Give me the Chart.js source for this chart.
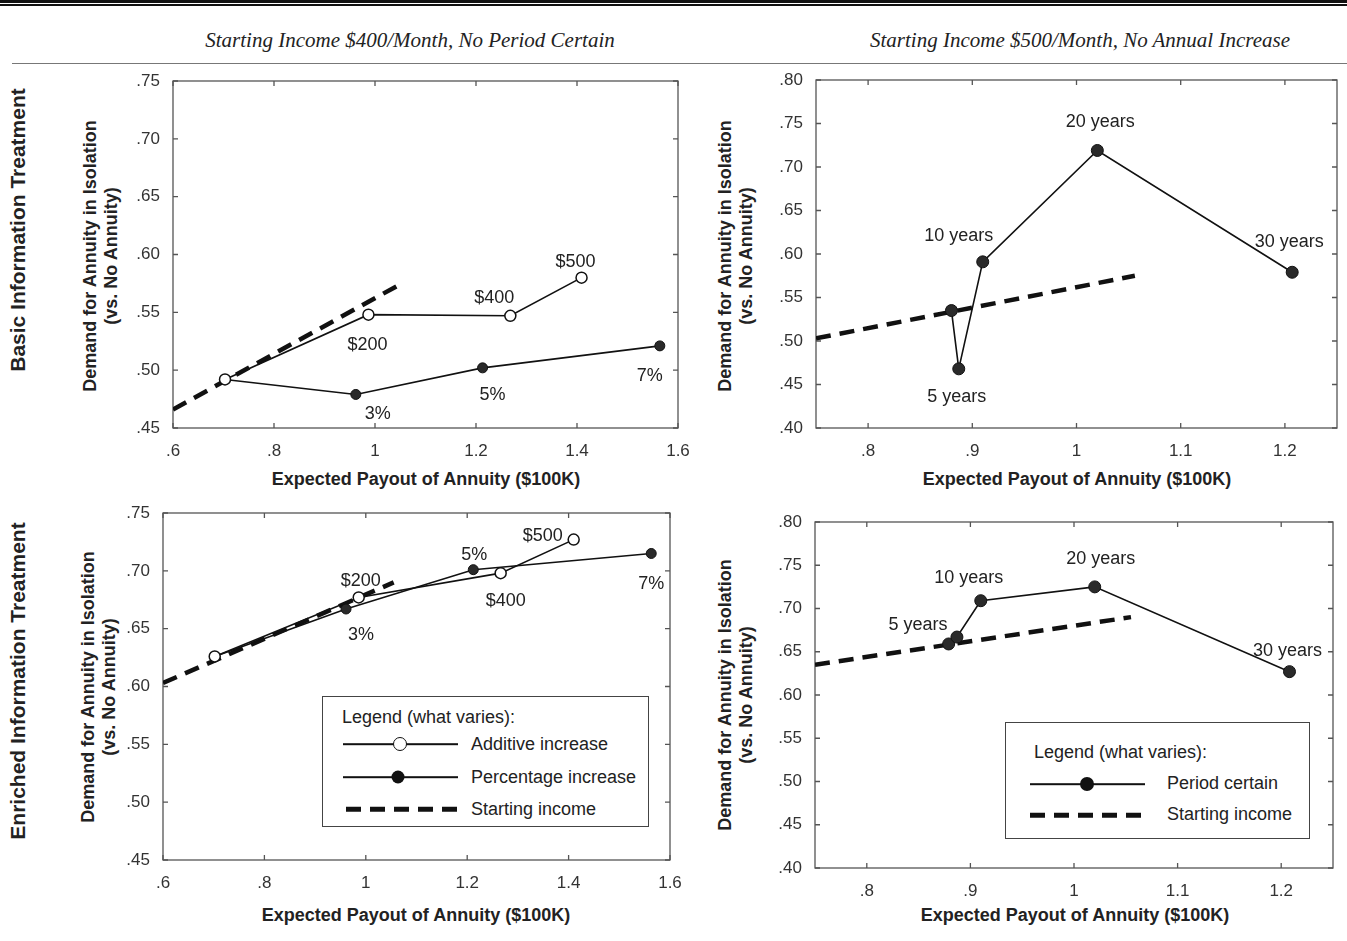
<!DOCTYPE html>
<html>
<head>
<meta charset="utf-8">
<script src="https://cdn.jsdelivr.net/npm/chart.js@4.4.1/dist/chart.umd.min.js"></script>
<style>
html,body{margin:0;padding:0;background:#fff;width:1347px;height:941px;overflow:hidden;position:relative;font-family:"Liberation Sans",Arial,Helvetica,sans-serif;color:#222;}
canvas{position:absolute;}
.rule{position:absolute;left:0;width:1347px;background:#111;}
.hdr{position:absolute;font-family:"Liberation Serif","Times New Roman",serif;font-style:italic;font-size:21px;color:#222;white-space:nowrap;transform:translate(-50%,-50%);}
.rowlab{position:absolute;font-weight:bold;font-size:21px;color:#222;white-space:nowrap;transform:translate(-50%,-50%) rotate(-90deg);}
.ytitle{position:absolute;font-weight:bold;font-size:18px;color:#222;white-space:nowrap;transform:translate(-50%,-50%) rotate(-90deg);}
.xtitle{position:absolute;font-weight:bold;font-size:18px;color:#222;white-space:nowrap;transform:translate(-50%,-50%);}
.legend{position:absolute;border:1.3px solid #444;background:#fff;box-sizing:border-box;}
.legend .t{position:absolute;font-size:18px;color:#222;white-space:nowrap;transform:translateY(-50%);}
.legend .ln{position:absolute;height:1.6px;background:#111;transform:translateY(-50%);}
.legend .dash{position:absolute;height:4.5px;transform:translateY(-50%);background:repeating-linear-gradient(to right,#111 0 15px,transparent 15px 24px);}
.legend .dot{position:absolute;border-radius:50%;box-sizing:border-box;transform:translate(-50%,-50%);}
</style>
</head>
<body>
<div class="rule" style="top:0;height:3px;"></div>
<div class="rule" style="top:4px;height:1.6px;"></div>
<div style="position:absolute;left:12px;top:63px;width:1335px;height:1.3px;background:#777;"></div>

<div class="hdr" style="left:410px;top:40px;">Starting Income $400/Month, No Period Certain</div>
<div class="hdr" style="left:1080px;top:40px;">Starting Income $500/Month, No Annual Increase</div>

<div class="rowlab" style="left:18px;top:230px;">Basic Information Treatment</div>
<div class="rowlab" style="left:18px;top:681px;">Enriched Information Treatment</div>

<div class="ytitle" style="left:90px;top:256px;">Demand for Annuity in Isolation</div>
<div class="ytitle" style="left:111px;top:256px;">(vs. No Annuity)</div>
<div class="ytitle" style="left:88px;top:687px;">Demand for Annuity in Isolation</div>
<div class="ytitle" style="left:109px;top:687px;">(vs. No Annuity)</div>
<div class="ytitle" style="left:725px;top:256px;">Demand for Annuity in Isolation</div>
<div class="ytitle" style="left:746px;top:256px;">(vs. No Annuity)</div>
<div class="ytitle" style="left:725px;top:695px;">Demand for Annuity in Isolation</div>
<div class="ytitle" style="left:746px;top:695px;">(vs. No Annuity)</div>

<div class="xtitle" style="left:426px;top:479px;">Expected Payout of Annuity ($100K)</div>
<div class="xtitle" style="left:1077px;top:479px;">Expected Payout of Annuity ($100K)</div>
<div class="xtitle" style="left:416px;top:915px;">Expected Payout of Annuity ($100K)</div>
<div class="xtitle" style="left:1075px;top:915px;">Expected Payout of Annuity ($100K)</div>

<canvas id="cA"></canvas>
<canvas id="cB"></canvas>
<canvas id="cC"></canvas>
<canvas id="cD"></canvas>

<div class="legend" style="left:322px;top:696px;width:327px;height:131px;">
  <div class="t" style="left:19px;top:20px;">Legend (what varies):</div>
  <div class="ln" style="left:20px;top:47px;width:115px;"></div>
  <div class="dot" style="left:77px;top:47px;width:14px;height:14px;border:1.6px solid #111;background:#fff;"></div>
  <div class="t" style="left:148px;top:47px;">Additive increase</div>
  <div class="ln" style="left:20px;top:80px;width:115px;"></div>
  <div class="dot" style="left:75px;top:80px;width:13px;height:13px;background:#111;"></div>
  <div class="t" style="left:148px;top:80px;">Percentage increase</div>
  <div class="dash" style="left:23px;top:112px;width:112px;"></div>
  <div class="t" style="left:148px;top:112px;">Starting income</div>
</div>

<div class="legend" style="left:1005px;top:722px;width:305px;height:117px;">
  <div class="t" style="left:28px;top:29px;">Legend (what varies):</div>
  <div class="ln" style="left:24px;top:61px;width:115px;"></div>
  <div class="dot" style="left:81px;top:61px;width:14px;height:14px;background:#111;"></div>
  <div class="t" style="left:161px;top:60px;">Period certain</div>
  <div class="dash" style="left:24px;top:92px;width:115px;"></div>
  <div class="t" style="left:161px;top:91px;">Starting income</div>
</div>

<script>
// ---------- DATA ----------
// Basic information treatment, starting income $400/month, no period certain
const basicAddX = [0.703, 0.987, 1.268, 1.409];
const basicAddY = [0.492, 0.548, 0.547, 0.580];
const basicAddLabels = ['', '$200', '$400', '$500'];
const basicPctX = [0.703, 0.962, 1.213, 1.564];
const basicPctY = [0.492, 0.479, 0.502, 0.521];
const basicPctLabels = ['', '3%', '5%', '7%'];
const basicIncomeX = [0.600, 1.053];
const basicIncomeY = [0.466, 0.575];

// Basic information treatment, starting income $500/month, no annual increase
const basicPerX = [0.880, 0.887, 0.910, 1.020, 1.207];
const basicPerY = [0.535, 0.468, 0.591, 0.719, 0.579];
const basicPerLabels = ['', '5 years', '10 years', '20 years', '30 years'];
const basicIncome2X = [0.750, 1.056];
const basicIncome2Y = [0.503, 0.575];

// Enriched information treatment, starting income $400/month, no period certain
const enrAddX = [0.702, 0.986, 1.266, 1.410];
const enrAddY = [0.626, 0.677, 0.698, 0.727];
const enrAddLabels = ['', '$200', '$400', '$500'];
const enrPctX = [0.702, 0.961, 1.212, 1.563];
const enrPctY = [0.626, 0.667, 0.701, 0.715];
const enrPctLabels = ['', '3%', '5%', '7%'];
const enrIncomeX = [0.600, 1.055];
const enrIncomeY = [0.603, 0.690];

// Enriched information treatment, starting income $500/month, no annual increase
const enrPerX = [0.879, 0.887, 0.910, 1.020, 1.208];
const enrPerY = [0.659, 0.667, 0.709, 0.725, 0.627];
const enrPerLabels = ['', '5 years', '10 years', '20 years', '30 years'];
const enrIncome2X = [0.750, 1.055];
const enrIncome2Y = [0.635, 0.690];

// Tick labels
const xTicksLeft = [0.6, 0.8, 1.0, 1.2, 1.4, 1.6];
const yTicksLeft = [0.45, 0.50, 0.55, 0.60, 0.65, 0.70, 0.75];
const xTicksRight = [0.8, 0.9, 1.0, 1.1, 1.2];
const yTicksRight = [0.40, 0.45, 0.50, 0.55, 0.60, 0.65, 0.70, 0.75, 0.80];

// ---------- HELPERS ----------
const pts = (xs, ys) => xs.map((x, i) => ({x: x, y: ys[i]}));
const INK = '#111';
function solidSeries(xs, ys, labels, offsets, open, r) {
  return {
    data: pts(xs, ys), showLine: true, fill: false,
    borderColor: INK, borderWidth: 1.6,
    pointStyle: 'circle', pointRadius: r, pointHoverRadius: r,
    pointBackgroundColor: open ? '#fff' : '#2a2a2a',
    pointBorderColor: INK, pointBorderWidth: open ? 1.5 : 1,
    pointLabels: labels, labelOffsets: offsets
  };
}
function dashedSeries(xs, ys) {
  return {
    data: pts(xs, ys), showLine: true, fill: false,
    borderColor: INK, borderWidth: 4.5, borderDash: [15, 9],
    pointRadius: 0, pointHoverRadius: 0
  };
}
const fmtY = v => Number(v).toFixed(2).replace(/^0/, '');
const fmtX = v => {
  const r = Math.round(v * 1000) / 1000;
  return Number.isInteger(r) ? String(r) : r.toFixed(1).replace(/^0/, '');
};

const framePlugin = {
  id: 'frameTicks',
  beforeDatasetsDraw(chart) {
    const {ctx, chartArea: a, scales} = chart;
    ctx.save();
    ctx.strokeStyle = '#555';
    ctx.lineWidth = 1.3;
    ctx.strokeRect(a.left, a.top, a.right - a.left, a.bottom - a.top);
    ctx.beginPath();
    scales.x.ticks.forEach(t => {
      const p = scales.x.getPixelForValue(t.value);
      ctx.moveTo(p, a.bottom); ctx.lineTo(p, a.bottom - 5);
      ctx.moveTo(p, a.top); ctx.lineTo(p, a.top + 5);
    });
    scales.y.ticks.forEach(t => {
      const p = scales.y.getPixelForValue(t.value);
      ctx.moveTo(a.left, p); ctx.lineTo(a.left + 5, p);
      ctx.moveTo(a.right, p); ctx.lineTo(a.right - 5, p);
    });
    ctx.stroke();
    ctx.restore();
  },
  afterDatasetsDraw(chart) {
    const {ctx} = chart;
    chart.data.datasets.forEach((ds, i) => {
      if (!ds.pointLabels) return;
      const meta = chart.getDatasetMeta(i);
      ctx.save();
      ctx.font = '18px "Liberation Sans", Arial, sans-serif';
      ctx.fillStyle = '#222';
      ctx.textAlign = 'center';
      ctx.textBaseline = 'middle';
      ds.pointLabels.forEach((txt, j) => {
        if (!txt) return;
        const el = meta.data[j];
        const off = (ds.labelOffsets && ds.labelOffsets[j]) || [0, 0];
        ctx.fillText(txt, el.x + off[0], el.y + off[1]);
      });
      ctx.restore();
    });
  }
};

function makeChart(id, box, xr, yr, xTicks, yTicks, datasets, padRight) {
  const Wy = 60, Hx = 44, padTop = 12;
  const cv = document.getElementById(id);
  const w = box.R - box.L + Wy + padRight;
  const h = box.B - box.T + padTop + Hx;
  cv.width = w; cv.height = h;
  cv.style.width = w + 'px'; cv.style.height = h + 'px';
  cv.style.left = (box.L - Wy) + 'px';
  cv.style.top = (box.T - padTop) + 'px';
  const tickFont = {family: '"Liberation Sans", Arial, sans-serif', size: 17};
  return new Chart(cv, {
    type: 'scatter',
    data: {datasets: datasets},
    options: {
      responsive: false, animation: false, devicePixelRatio: 1,
      layout: {padding: {left: 0, top: padTop, right: padRight, bottom: 0}},
      plugins: {legend: {display: false}, tooltip: {enabled: false}},
      events: [],
      scales: {
        x: {
          type: 'linear', min: xr[0], max: xr[1],
          afterBuildTicks: s => { s.ticks = xTicks.map(v => ({value: v})); },
          afterFit: s => { s.height = Hx; s.paddingLeft = 0; s.paddingRight = 0; },
          grid: {display: false, drawTicks: false},
          border: {display: false},
          ticks: {padding: 13, font: tickFont, color: '#333', autoSkip: false, maxRotation: 0, callback: v => fmtX(v)}
        },
        y: {
          type: 'linear', min: yr[0], max: yr[1],
          afterBuildTicks: s => { s.ticks = yTicks.map(v => ({value: v})); },
          afterFit: s => { s.width = Wy; s.paddingTop = 0; s.paddingBottom = 0; },
          grid: {display: false, drawTicks: false},
          border: {display: false},
          ticks: {padding: 13, font: tickFont, color: '#333', autoSkip: false, callback: v => fmtY(v)}
        }
      }
    },
    plugins: [framePlugin]
  });
}

// ---------- CHARTS ----------
makeChart('cA', {L: 173, R: 678, T: 81, B: 428}, [0.6, 1.6], [0.45, 0.75], xTicksLeft, yTicksLeft, [
  solidSeries(basicAddX, basicAddY, basicAddLabels, [null, [-1, 30], [-16, -18], [-6, -16]], true, 5.5),
  solidSeries(basicPctX, basicPctY, basicPctLabels, [null, [22, 20], [10, 27], [-10, 30]], false, 5),
  dashedSeries(basicIncomeX, basicIncomeY)
], 24);

makeChart('cB', {L: 816, R: 1337, T: 80, B: 428}, [0.75, 1.25], [0.40, 0.80], xTicksRight, yTicksRight, [
  solidSeries(basicPerX, basicPerY, basicPerLabels, [null, [-2, 28], [-24, -26], [3, -28], [-3, -30]], false, 6),
  dashedSeries(basicIncome2X, basicIncome2Y)
], 8);

makeChart('cC', {L: 163, R: 670, T: 513, B: 860}, [0.6, 1.6], [0.45, 0.75], xTicksLeft, yTicksLeft, [
  solidSeries(enrAddX, enrAddY, enrAddLabels, [null, [2, -16], [5, 28], [-31, -4]], true, 5.5),
  solidSeries(enrPctX, enrPctY, enrPctLabels, [null, [15, 26], [1, -15], [0, 31]], false, 5),
  dashedSeries(enrIncomeX, enrIncomeY)
], 24);

makeChart('cD', {L: 815, R: 1333, T: 522, B: 868}, [0.75, 1.25], [0.40, 0.80], xTicksRight, yTicksRight, [
  solidSeries(enrPerX, enrPerY, enrPerLabels, [null, [-39, -12], [-12, -23], [6, -28], [-2, -21]], false, 6),
  dashedSeries(enrIncome2X, enrIncome2Y)
], 8);
</script>
</body>
</html>
